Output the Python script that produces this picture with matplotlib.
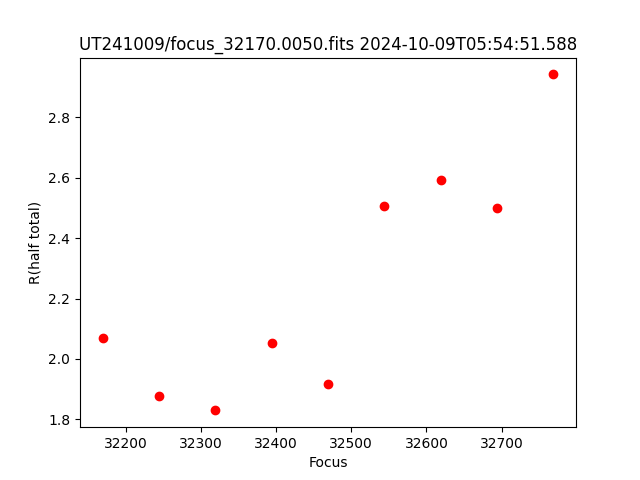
import matplotlib
matplotlib.use("Agg")
import matplotlib.pyplot as plt

focus = [32169, 32244, 32319, 32394, 32469, 32544, 32619, 32694, 32769]
r_half = [2.071, 1.878, 1.830, 2.054, 1.916, 2.505, 2.591, 2.498, 2.941]

fig, ax = plt.subplots(figsize=(6.4, 4.8), dpi=100)
ax.plot(focus, r_half, 'o', color='red')
ax.set_xlabel("Focus")
ax.set_ylabel("R(half total)")
ax.set_title("UT241009/focus_32170.0050.fits 2024-10-09T05:54:51.588")
fig.savefig("out.png")
